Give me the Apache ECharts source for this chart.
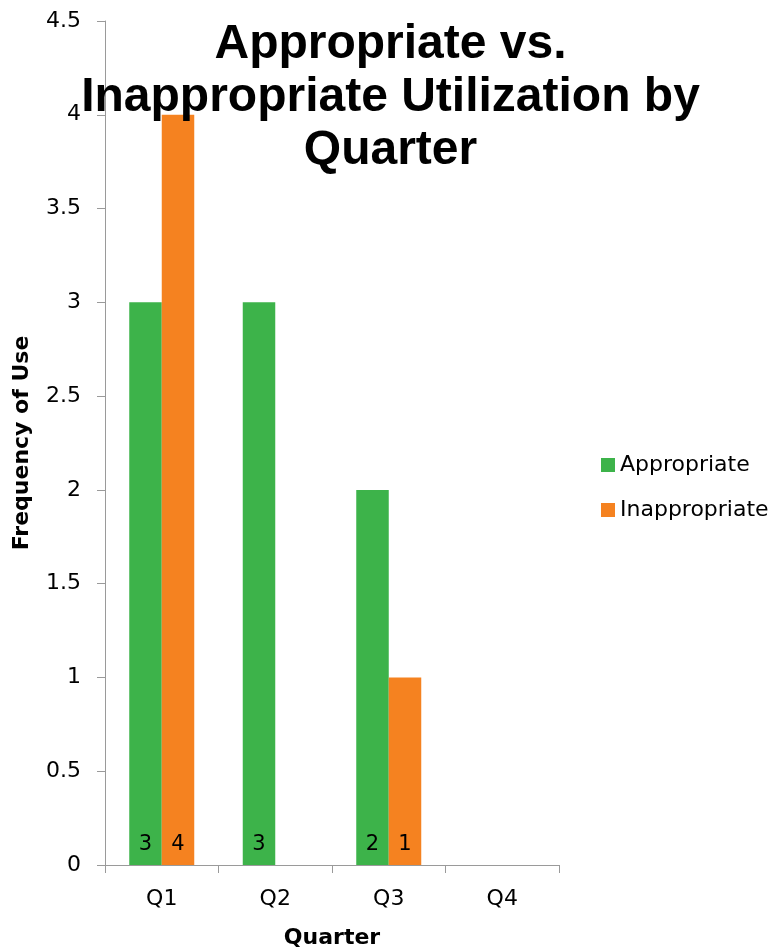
<!DOCTYPE html>
<html>
<head>
<meta charset="utf-8">
<script src="https://cdn.jsdelivr.net/npm/echarts@6/dist/echarts.min.js"></script>
<style>
  html, body { margin: 0; padding: 0; background: #fff; }
  #chart { width: 781px; height: 948px; }
</style>
</head>
<body>
<div id="chart"></div>
<script>
// Quarterly counts of appropriate vs. inappropriate use
const quarters = ['Q1', 'Q2', 'Q3', 'Q4'];
const appropriate = [3, 3, 2, 0];
const inappropriate = [4, 0, 1, 0];
const seriesNames = ['Appropriate', 'Inappropriate'];

const TITLE_FONT = '"Liberation Sans", Arial, sans-serif';
const FONT = '"DejaVu Sans", "Liberation Sans", Arial, sans-serif';
const axisGray = '#9a9a9a';

const chart = echarts.init(document.getElementById('chart'), null, { renderer: 'canvas' });

const barLabel = {
  show: true,
  position: 'insideBottom',
  distance: 10,
  color: '#000',
  fontSize: 21,
  fontFamily: FONT,
  formatter: p => (p.value ? String(p.value) : '')
};

chart.setOption({
  animation: false,
  backgroundColor: '#fff',
  title: {
    text: 'Appropriate vs.\nInappropriate Utilization by\nQuarter',
    left: 'center',
    top: 13,
    textStyle: {
      fontFamily: TITLE_FONT,
      fontSize: 48,
      fontWeight: 'bold',
      lineHeight: 53,
      color: '#000'
    }
  },
  legend: {
    orient: 'vertical',
    left: 601,
    top: 454,
    padding: 0,
    itemWidth: 14,
    itemHeight: 14,
    itemGap: 23,
    icon: 'rect',
    textStyle: { fontFamily: FONT, fontSize: 22, color: '#000', lineHeight: 22 },
    data: seriesNames
  },
  grid: {
    left: 105, top: 21, right: 222, bottom: 83,
    containLabel: false,
    outerBoundsMode: 'none'
  },
  xAxis: {
    type: 'category',
    data: quarters,
    name: 'Quarter',
    nameLocation: 'middle',
    nameGap: 62,
    nameTextStyle: { fontFamily: FONT, fontSize: 22, fontWeight: 'bold', color: '#000' },
    axisLine: { lineStyle: { color: axisGray, width: 1 } },
    axisTick: { show: true, length: 8, lineStyle: { color: axisGray } },
    axisLabel: { fontFamily: FONT, fontSize: 22, color: '#000', margin: 23 },
    splitLine: { show: false }
  },
  yAxis: {
    type: 'value',
    min: 0,
    max: 4.5,
    interval: 0.5,
    name: 'Frequency of Use',
    nameLocation: 'middle',
    nameGap: 72,
    nameRotate: 90,
    nameTextStyle: { fontFamily: FONT, fontSize: 22, fontWeight: 'bold', color: '#000' },
    axisLine: { show: true, lineStyle: { color: axisGray, width: 1 } },
    axisTick: { show: true, length: 8, lineStyle: { color: axisGray } },
    axisLabel: { fontFamily: FONT, fontSize: 22, color: '#000', margin: 24 },
    splitLine: { show: false }
  },
  series: [
    {
      name: seriesNames[0],
      type: 'bar',
      data: appropriate,
      barWidth: 32.5,
      barGap: '0%',
      itemStyle: { color: '#3DB34A' },
      label: barLabel
    },
    {
      name: seriesNames[1],
      type: 'bar',
      data: inappropriate,
      barWidth: 32.5,
      barGap: '0%',
      itemStyle: { color: '#F58220' },
      label: barLabel
    }
  ]
});
</script>
</body>
</html>
